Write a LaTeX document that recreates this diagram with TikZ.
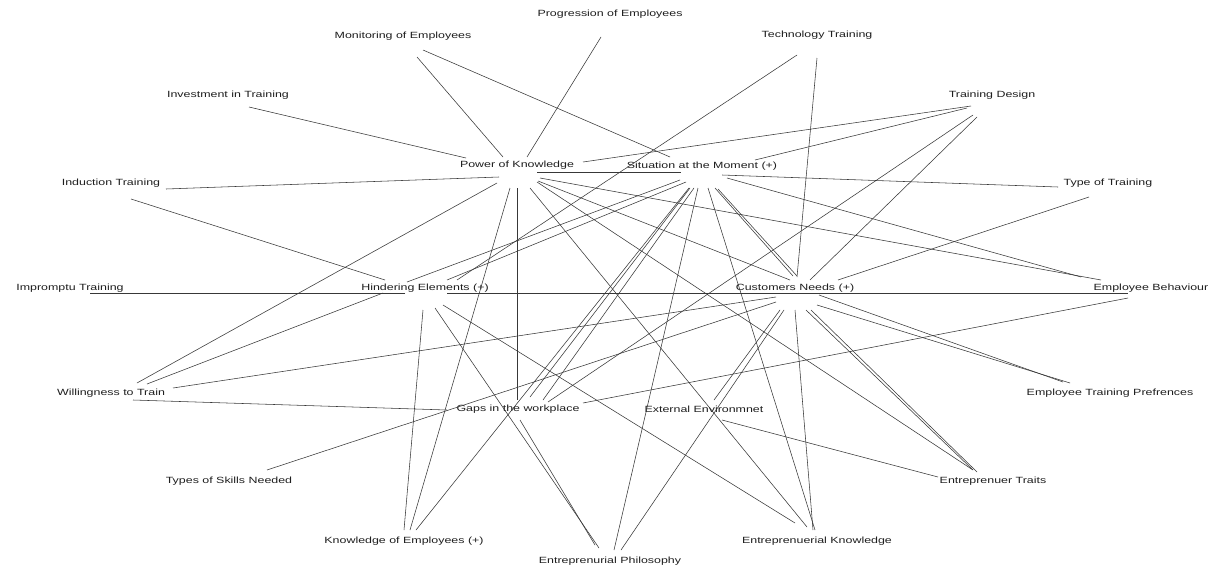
\documentclass[tikz,border=0pt]{standalone}
\usepackage{fontspec}
\setmainfont{Liberation Sans}[FakeStretch=1.38]
\tikzset{
  lbl/.style={inner sep=0pt, anchor=center, text=black!88, font=\fontsize{9}{10}\selectfont},
  edge/.style={draw=black!78, line width=0.55pt}
}
\newcommand\conn[4]{\draw[edge] ([shift={(#2)}]#1.center) -- ([shift={(#4)}]#3.center);}
\begin{document}
\begin{tikzpicture}[x=1pt,y=-1pt]
\useasboundingbox[fill=white] (0,0) rectangle (1212,568);
% nodes
\node[lbl] (prog) at (610,14) {Progression of Employees};
\node[lbl] (mon) at (403,36) {Monitoring of Employees};
\node[lbl] (tech) at (817,35) {Technology Training};
\node[lbl] (inv) at (228,95) {Investment in Training};
\node[lbl] (td) at (992,95) {Training Design};
\node[lbl] (pok) at (517,165) {Power of Knowledge};
\node[lbl] (sit) at (702,166) {Situation at the Moment (+)};
\node[lbl] (ind) at (111,183) {Induction Training};
\node[lbl] (type) at (1108,183) {Type of Training};
\node[lbl] (imp) at (70,288) {Impromptu Training};
\node[lbl] (hind) at (425,288) {Hindering Elements (+)};
\node[lbl] (cust) at (795,288) {Customers Needs (+)};
\node[lbl] (eb) at (1151,288) {Employee Behaviour};
\node[lbl] (will) at (111,393) {Willingness to Train};
\node[lbl] (gaps) at (518,409) {Gaps in the workplace};
\node[lbl] (ext) at (704,409) {External Environmnet};
\node[lbl] (etp) at (1110,393) {Employee Training Prefrences};
\node[lbl] (skills) at (229,481) {Types of Skills Needed};
\node[lbl] (traits) at (993,481) {Entreprenuer Traits};
\node[lbl] (koe) at (404,541) {Knowledge of Employees (+)};
\node[lbl] (ek) at (817,541) {Entreprenuerial Knowledge};
\node[lbl] (phil) at (610,561) {Entreprenurial Philosophy};
% connectors
\conn{pok}{-51,-7}{inv}{21,12}
\conn{pok}{-14,-8}{mon}{14,21}
\conn{pok}{10,-8}{prog}{-9,23}
\conn{pok}{-18,12}{ind}{55,6}
\conn{pok}{66,-3}{td}{-21,11}
\conn{pok}{20,7}{sit}{-21,6}
\conn{pok}{-20,18}{will}{26,-10}
\conn{pok}{0,23}{gaps}{-1,-9}
\conn{pok}{-7,23}{koe}{6,-11}
\conn{pok}{13,23}{ek}{-10,-14}
\conn{pok}{20,17}{traits}{-20,-11}
\conn{pok}{23,13}{eb}{-50,-8}
\conn{pok}{21,16}{cust}{-5,-8}
\conn{sit}{-32,-9}{mon}{20,14}
\conn{sit}{53,-6}{td}{-25,13}
\conn{sit}{20,9}{type}{-50,4}
\conn{sit}{-22,14}{hind}{-18,-6}
\conn{sit}{-16,16}{hind}{22,-8}
\conn{sit}{-12,22}{gaps}{12,-12}
\conn{sit}{-8,22}{gaps}{25,-9}
\conn{sit}{-13,22}{koe}{12,-11}
\conn{sit}{-4,22}{phil}{4,-11}
\conn{sit}{6,22}{ek}{-2,-11}
\conn{sit}{13,22}{cust}{-2,-12}
\conn{sit}{16,23}{cust}{2,-12}
\conn{sit}{25,12}{eb}{-70,-11}
\conn{hind}{-20,5}{imp}{20,5}
\conn{hind}{-40,-8}{ind}{20,16}
\conn{hind}{-42,5}{will}{36,-9}
\conn{hind}{32,-8}{tech}{-20,20}
\conn{hind}{-2,22}{koe}{0,-11}
\conn{hind}{10,20}{phil}{-11,-13}
\conn{hind}{18,17}{ek}{-22,-18}
\conn{hind}{22,5}{cust}{0,5}
\conn{cust}{0,5}{eb}{-23,5}
\conn{cust}{2,-11}{tech}{0,23}
\conn{cust}{15,-8}{td}{-15,22}
\conn{cust}{43,-8}{type}{-19,14}
\conn{cust}{-19,9}{will}{62,-5}
\conn{cust}{-19,14}{skills}{38,-11}
\conn{cust}{-11,22}{phil}{11,-11}
\conn{cust}{-15,22}{ext}{10,-9}
\conn{cust}{0,22}{ek}{-4,-11}
\conn{cust}{16,22}{traits}{-16,-9}
\conn{cust}{11,22}{traits}{-20,-11}
\conn{cust}{22,17}{etp}{-40,-10}
\conn{cust}{24,7}{etp}{-47,-11}
\conn{ext}{18,11}{traits}{-55,-4}
\conn{gaps}{-71,1}{will}{22,7}
\conn{gaps}{30,-7}{td}{-19,20}
\conn{gaps}{65,-6}{eb}{-23,10}
\conn{gaps}{2,11}{phil}{-15,-16}
\end{tikzpicture}
\end{document}
